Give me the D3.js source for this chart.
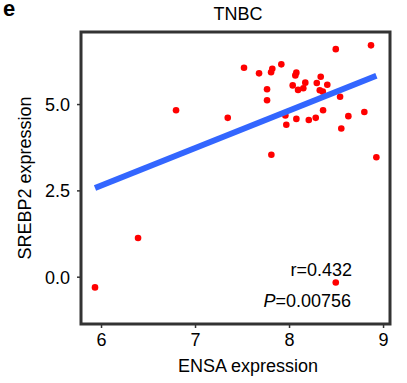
<!DOCTYPE html>
<html>
<head>
<meta charset="utf-8">
<script src="https://cdn.jsdelivr.net/npm/d3@7"></script>
<style>
  body { margin: 0; background: #fff; }
  text { font-family: "Liberation Sans", Arial, sans-serif; fill: #000; }
</style>
</head>
<body>
<div id="chart"></div>
<script>
// ENSA (x) vs SREBP2 (y) expression, TNBC samples
var ensa = [6.798, 7.348, 7.521, 7.681, 7.766, 7.766, 7.809, 7.822, 7.812, 7.918,
  7.961, 7.971, 8.039, 8.067, 8.078, 8.078, 8.096, 8.152, 8.173, 8.21,
  8.284, 8.295, 8.337, 8.327, 8.359, 8.362, 8.407, 8.497, 8.543, 8.556,
  8.631, 8.801, 8.872, 8.929, 6.394, 5.936, 8.497];
var srebp2 = [4.82, 4.60, 6.05, 5.89, 5.43, 5.11, 5.92, 6.02, 3.53, 6.15,
  4.67, 4.40, 5.54, 5.83, 5.91, 4.57, 5.41, 5.46, 5.62, 4.54,
  4.60, 5.61, 5.79, 5.40, 5.36, 4.82, 5.56, 6.59, 5.21, 4.29,
  4.65, 4.77, 6.70, 3.46, 1.12, -0.31, -0.17];

// fitted regression line ends
var fitX = [5.936, 8.929];
var fitY = [2.57, 5.82];

var xTicks = [6, 7, 8, 9];
var yTicks = [0, 2.5, 5];

var width = 407,
  height = 383;

var panel = { left: 81, right: 390, top: 32, bottom: 324 };

var svg = d3.select("#chart").append("svg")
  .attr("width", width)
  .attr("height", height);

var x = d3.scaleLinear()
  .domain([5.787, 9.074])
  .range([panel.left, panel.right]);

var y = d3.scaleLinear()
  .domain([-1.37, 7.087])
  .range([panel.bottom, panel.top]);

// panel label and title
svg.append("text")
  .attr("x", 3)
  .attr("y", 16)
  .style("font-size", "22px")
  .style("font-weight", "bold")
  .text("e");

svg.append("text")
  .attr("x", 238)
  .attr("y", 20)
  .attr("text-anchor", "middle")
  .style("font-size", "18px")
  .text("TNBC");

// axes
var xAxis = svg.append("g")
  .attr("transform", "translate(0," + panel.bottom + ")")
  .call(d3.axisBottom(x).tickValues(xTicks).tickFormat(d3.format("d"))
    .tickSize(4).tickSizeOuter(0));

var yAxis = svg.append("g")
  .attr("transform", "translate(" + panel.left + ",0)")
  .call(d3.axisLeft(y).tickValues(yTicks).tickFormat(d3.format(".1f"))
    .tickSize(4).tickSizeOuter(0));

[xAxis, yAxis].forEach(function (a) {
  a.select(".domain").remove();
  a.selectAll(".tick line").attr("stroke", "#333").attr("stroke-width", 1.5);
  a.selectAll(".tick text")
    .style("font-size", "18px")
    .style("font-family", "'Liberation Sans', Arial, sans-serif")
    .attr("fill", "#000");
});
xAxis.selectAll(".tick text").attr("y", 9).attr("dy", "0.71em");
yAxis.selectAll(".tick text").attr("x", -11).attr("dy", "0.35em");

svg.append("text")
  .attr("x", 248)
  .attr("y", 372)
  .attr("text-anchor", "middle")
  .style("font-size", "18px")
  .text("ENSA expression");

svg.append("text")
  .attr("transform", "translate(31," + 178 + ") rotate(-90)")
  .attr("text-anchor", "middle")
  .style("font-size", "18px")
  .text("SREBP2 expression");

// points
svg.selectAll(".dot")
  .data(d3.zip(ensa, srebp2))
  .enter().append("circle")
  .attr("class", "dot")
  .attr("cx", d => x(d[0]))
  .attr("cy", d => y(d[1]))
  .attr("r", 3.3)
  .attr("fill", "#ff0000");

// regression line
var line = d3.line()
  .x(d => x(d[0]))
  .y(d => y(d[1]));

svg.append("path")
  .datum(d3.zip(fitX, fitY))
  .attr("d", line)
  .attr("fill", "none")
  .attr("stroke", "#3366ff")
  .attr("stroke-width", 6);

// stats
svg.append("text")
  .attr("x", 352)
  .attr("y", 276)
  .attr("text-anchor", "end")
  .style("font-size", "18px")
  .text("r=0.432");

var pt = svg.append("text")
  .attr("x", 351)
  .attr("y", 307)
  .attr("text-anchor", "end")
  .style("font-size", "18px");
pt.append("tspan").style("font-style", "italic").text("P");
pt.append("tspan").text("=0.00756");

// panel border
svg.append("rect")
  .attr("x", panel.left)
  .attr("y", panel.top)
  .attr("width", panel.right - panel.left)
  .attr("height", panel.bottom - panel.top)
  .attr("fill", "none")
  .attr("stroke", "#333")
  .attr("stroke-width", 3);
</script>
</body>
</html>
